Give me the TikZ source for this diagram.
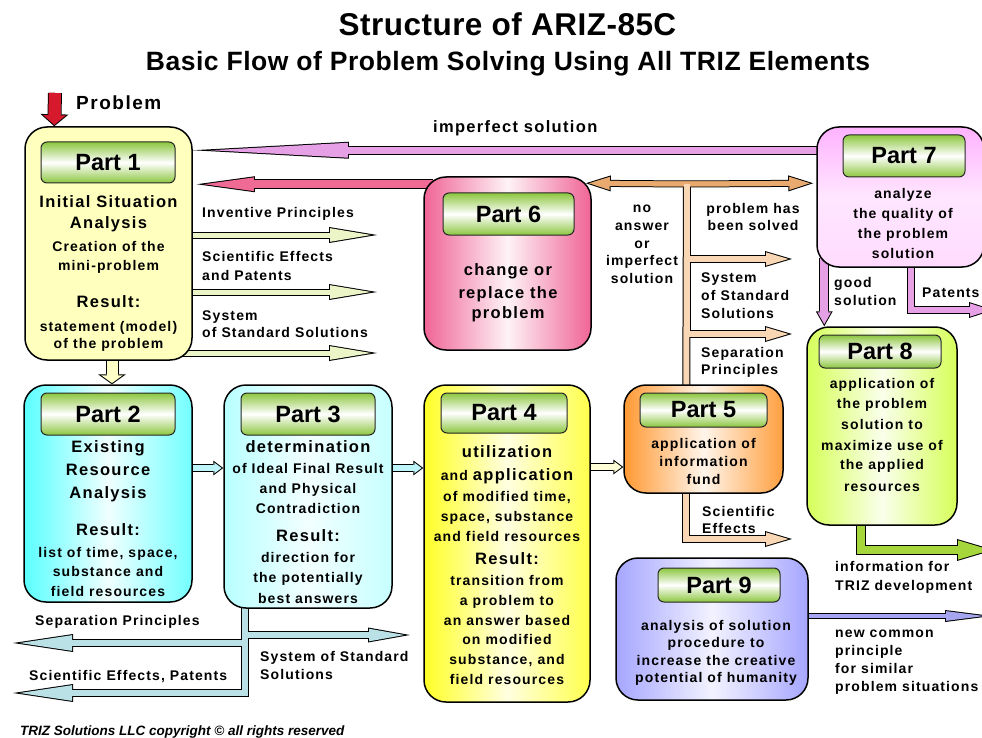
\documentclass[tikz,border=0pt]{standalone}
\usepackage{fontspec}
\setmainfont{Liberation Sans}[LetterSpace=8]
\newfontfamily\hdrfont{Liberation Sans}
\newfontfamily\ttlfont{Liberation Sans}[LetterSpace=1.5]
\newfontfamily\subfont{Liberation Sans}[LetterSpace=2]
\newfontfamily\cpyfont{Liberation Sans}
\usepackage{tikz}
\usetikzlibrary{arrows.meta,calc,backgrounds}

\definecolor{hdrgreen}{RGB}{140,198,63}
\definecolor{p1fill}{RGB}{255,255,190}
\definecolor{p6pink}{RGB}{240,100,150}
\definecolor{pinkA}{RGB}{230,160,230}
\definecolor{pinkB}{RGB}{240,106,150}
\definecolor{p1green}{RGB}{235,245,200}
\definecolor{p1yel}{RGB}{255,255,200}
\definecolor{probred}{RGB}{215,25,45}
\definecolor{cyanA}{RGB}{190,245,250}
\definecolor{cyanB}{RGB}{185,225,230}
\definecolor{p4yel}{RGB}{255,255,215}
\definecolor{orangeA}{RGB}{232,170,110}
\definecolor{orangeB}{RGB}{250,215,180}
\definecolor{green8}{RGB}{165,215,60}
\definecolor{blue9}{RGB}{165,165,240}

\def\flowpass{0}
\tikzset{
  box/.style={draw=black, line width=1.5pt, rounded corners=22pt, inner sep=0pt},
  hdr/.style={draw=black!85, line width=1pt, rounded corners=6pt, inner sep=0pt,
    top color=hdrgreen, bottom color=hdrgreen, middle color=white,
    font=\hdrfont\bfseries\fontsize{23.5}{26}\selectfont},
  body/.style={font=\bfseries\fontsize{14}{#1}\selectfont, align=center, anchor=north, inner sep=0pt},
  body/.default=19,
  lbl/.style={font=\bfseries\fontsize{14}{#1}\selectfont, inner sep=0pt},
  lbl/.default=18,
  % block arrow: fill colour, shaft width, head length, head width
  flow/.code n args={4}{%
    \pgfmathsetmacro\flowH{0.5*#4}%
    \pgfmathsetmacro\flowR{(#3)*sqrt(1+(\flowH/(#3))*(\flowH/(#3)))}%
    \pgfmathsetmacro\flowD{\flowR/\flowH}%
    \pgfmathsetmacro\flowLi{#3-1-\flowD}%
    \pgfmathsetmacro\flowWi{2*(\flowH*(#3-1)/(#3)-\flowR/(#3))}%
    \pgfmathsetmacro\flowSi{#2-2}%
    \pgfmathsetmacro\flowF{#3-2}%
    \tikzset{line join=miter}%
    \ifnum\flowpass=2 \else
      \tikzset{preaction={draw=black, line width=#2pt, shorten >=0pt,
        -{Triangle[length=#3pt, width=#4pt, line width=0pt]}}}%
    \fi
    \ifnum\flowpass=1 \else
      \tikzset{postaction={draw=#1, line width=\flowSi pt, shorten >=\flowD pt,
          -{Triangle[length=\flowLi pt, width=\flowWi pt, line width=0pt]}},
        postaction={draw=#1, line width=\flowSi pt, shorten >=\flowF pt, -}}%
    \fi
  },
  flowbar/.code 2 args={%
    \pgfmathsetmacro\flowSi{#2-2}%
    \ifnum\flowpass=2 \else\tikzset{preaction={draw=black, line width=#2pt}}\fi
    \ifnum\flowpass=1 \else\tikzset{postaction={draw=#1, line width=\flowSi pt}}\fi
  }
}
\newcommand{\bigtxt}[1]{{\fontsize{16.5}{19}\selectfont #1}}

\begin{document}
\begin{tikzpicture}[x=1pt,y=-1pt]
	\useasboundingbox (0,0) rectangle (982,738);
	\clip (0,0) rectangle (982,738);

	\node (title) at (507.5,36) [anchor=base, inner sep=0pt, font=\ttlfont\bfseries\fontsize{31.5}{34}\selectfont] {Structure of ARIZ-85C};
	\node (subtitle) at (508,70.5) [anchor=base, inner sep=0pt, font=\subfont\bfseries\fontsize{26.5}{29}\selectfont] {Basic Flow of Problem Solving Using All TRIZ Elements};

	% the nine parts
	\node (p1) at (108.5,243.5) [box, minimum width=167pt, minimum height=233pt, fill=p1fill] {};
	\node (p2) at (108,493.5) [box, minimum width=168pt, minimum height=217pt, left color=cyan!65, right color=cyan!55, middle color=cyan!6] {};
	\node (p3) at (308,496.5) [box, minimum width=168pt, minimum height=223pt, left color=cyan!28, right color=cyan!22, middle color=cyan!5] {};
	\node (p4) at (507,543.5) [box, minimum width=166pt, minimum height=317pt, left color=yellow!85, right color=yellow!70, middle color=yellow!12] {};
	\node (p5) at (703.5,439) [box, minimum width=159pt, minimum height=108pt, left color=orange!80, right color=orange!75, middle color=orange!8] {};
	\node (p6) at (507.5,263.5) [box, minimum width=167pt, minimum height=173pt, left color=p6pink, right color=p6pink, middle color=p6pink!8] {};
	\node (p7) at (900.5,197) [box, minimum width=167pt, minimum height=140pt, top color=magenta!30, bottom color=magenta!14, middle color=magenta!10] {};
	\node (p8) at (882,426) [box, minimum width=150pt, minimum height=198pt, left color=lime!65, right color=lime!65, middle color=lime!8] {};
	\node (p9) at (712,629) [box, minimum width=192pt, minimum height=142pt, left color=blue!35, right color=blue!35, middle color=blue!5] {};

	\node (h1) at (108,162.5) [hdr, minimum width=134pt, minimum height=41pt] {Part 1};
	\node (h2) at (108,414) [hdr, minimum width=134pt, minimum height=42pt] {Part 2};
	\node (h3) at (308,414) [hdr, minimum width=134pt, minimum height=42pt] {Part 3};
	\node (h4) at (504,413) [hdr, minimum width=126pt, minimum height=40pt] {Part 4};
	\node (h5) at (703.5,410) [hdr, minimum width=127pt, minimum height=34pt] {Part 5};
	\node (h6) at (508.5,214) [hdr, minimum width=131pt, minimum height=42pt] {Part 6};
	\node (h7) at (904,156) [hdr, minimum width=122pt, minimum height=42pt] {Part 7};
	\node (h8) at (880,351.5) [hdr, minimum width=122pt, minimum height=33pt] {Part 8};
	\node (h9) at (719,585) [hdr, minimum width=122pt, minimum height=34pt] {Part 9};

	\node (t1) at (108.5,194.2) [body=19] {\strut\bigtxt{Initial Situation}\\[2pt]\bigtxt{Analysis}\\[3.5pt]Creation of the\\mini-problem\\[18.5pt]\bigtxt{Result:}\\[4.5pt]statement (model)\\[-2pt]of the problem};
	\node (t2) at (108,439.2) [body=19] {\strut\bigtxt{Existing}\\[3.5pt]\bigtxt{Resource}\\[4.5pt]\bigtxt{Analysis}\\[18pt]\bigtxt{Result:}\\[2.5pt]list of time, space,\\substance and\\[1pt]field resources};
	\node (t3) at (308,438.5) [body=20] {\strut\bigtxt{determination}\\[0.5pt]of Ideal Final Result\\and Physical\\Contradiction\\[8.5pt]\bigtxt{Result:}\\[0.5pt]direction for\\the potentially\\[1pt]best answers};
	\node (t4) at (507,443) [body=20] {\strut\bigtxt{utilization}\\[3pt]and \bigtxt{application}\\[1pt]of modified time,\\space, substance\\and field resources\\[3.5pt]\bigtxt{Result:}\\[0.5pt]transition from\\a problem to\\an answer based\\[-1pt]on modified\\substance, and\\field resources};
	\node (t5) at (703.5,435.4) [body=18] {\strut application of\\information\\fund};
	\node (t6) at (508,260) [body=21.5] {\strut\bigtxt{change or}\\[1.5pt]\bigtxt{replace the}\\[-1.5pt]\bigtxt{problem}};
	\node (t7) at (903,184) [body=20] {\strut analyze\\the quality of\\the problem\\solution};
	\node (t8) at (882,373.4) [body=20.8] {\strut application of\\the problem\\solution to\\maximize use of\\[-2pt]the applied\\[1pt]resources};
	\node (t9) at (716,617.6) [body=17.7] {\strut analysis of solution\\procedure to\\increase the creative\\[-0.7pt]potential of humanity};

	% labels
	\node (lprob) at (76,110) [anchor=base west, inner sep=0pt, font=\bfseries\fontsize{19}{22}\selectfont] {Problem};
	\node (limp) at (433,133) [lbl, anchor=base west, font=\bfseries\fontsize{16.5}{18}\selectfont] {imperfect solution};
	\node (linv) at (202,218) [lbl, anchor=base west] {Inventive Principles};
	\node (lsci) at (202,247.7) [lbl=19, align=left, anchor=north west] {\strut Scientific Effects\\and Patents};
	\node (lsss) at (202,308.1) [lbl=17, align=left, anchor=north west] {\strut System\\of Standard Solutions};
	\node (lno) at (642,199.5) [lbl=17.9, align=center, anchor=north] {\strut no\\answer\\or\\imperfect\\solution};
	\node (lsolved) at (753,201.1) [lbl=17, align=center, anchor=north] {\strut problem has\\been solved};
	\node (lsss5) at (701,269.4) [lbl=18, align=left, anchor=north west] {\strut System\\of Standard\\Solutions};
	\node (lsep5) at (701,344.8) [lbl=17.5, align=left, anchor=north west] {\strut Separation\\Principles};
	\node (lsci5) at (702,503.8) [lbl=17.5, align=left, anchor=north west] {\strut Scientific\\Effects};
	\node (lgood) at (834,274.4) [lbl=18, align=left, anchor=north west] {\strut good\\solution};
	\node (lpat) at (922,297) [lbl, anchor=base west] {Patents};
	\node (linfo) at (835,558.5) [lbl=18.5, align=left, anchor=north west] {\strut information for\\TRIZ development};
	\node (lnew) at (835,624.4) [lbl=18, align=left, anchor=north west] {\strut new common\\principle\\for similar\\problem situations};
	\node (lsep3) at (35,625) [lbl, anchor=base west] {Separation Principles};
	\node (lsci3) at (29,680) [lbl, anchor=base west] {Scientific Effects, Patents};
	\node (lsss3) at (260,648.4) [lbl=18, align=left, anchor=north west] {\strut System of Standard\\Solutions};
	\node (lcopy) at (20,735) [anchor=base west, inner sep=0pt, font=\cpyfont\bfseries\itshape\fontsize{13.5}{15}\selectfont] {TRIZ Solutions LLC copyright © all rights reserved};

	% connectors behind the boxes
	\begin{scope}[on background layer]
		\clip (0,0) rectangle (982,738);
		\coordinate (probin) at (55,93);
		\path[flow={probred}{14}{12}{28}] (probin) -- ($(p1.north west)+(30,0)$);

		\path[flow={pinkA}{9}{156}{17}] ($(p7.north west)+(10,24)$) -- ($(p1.north east)+(0,24)$);
		\path[flow={pinkB}{10}{58}{16}] ($(p6.north west)+(10,8)$) -- ($(p1.north east)+(4,58)$);

		\coordinate (tinv) at (377,235);
		\coordinate (tsci) at (377,292);
		\coordinate (tsss) at (377,353);
		\foreach \tp in {tinv,tsci,tsss}
			\path[flow={p1green}{7}{48}{16}] ($(p1.east |- \tp)+(-20,0)$) -- (\tp);
		\path[flow={p1yel}{13}{10}{28}] ($(p1.south)+(3.5,-10)$) -- ($(p2.north)+(4,0)$);

		\path[flow={cyanA}{8}{10}{15}] ($(p2.east)+(-6,-25.5)$) -- ($(p3.west)+(0,-28.5)$);
		\path[flow={cyanA}{8}{10}{15}] ($(p3.east)+(-6,-28.5)$) -- ($(p4.west)+(0,-75.5)$);
		\path[flow={p4yel}{8}{10}{15}] ($(p4.east)+(-6,-76.5)$) -- ($(p5.west)+(0,28)$);

		\coordinate (c3) at ($(p3.south west)+(22,-10)$);
		\coordinate (tsss3) at (410,635);
		\coordinate (tsep3) at (13,643);
		\coordinate (tsci3) at (13,693);
		\foreach \flowpass in {1,2} {
			\path[flow={cyanB}{8}{42}{15}] (c3) |- (tsss3);
			\path[flow={cyanB}{8}{60}{18}] (c3) |- (tsep3);
			\path[flow={cyanB}{8}{60}{18}] (c3) |- (tsci3);
		}

		\coordinate (oj) at (687,184);
		\coordinate (tsss5) at (792,259);
		\coordinate (tsep5) at (792,334);
		\coordinate (tsci5) at (792,539);
		\foreach \flowpass in {1,2} {
			\path[flow={orangeA}{7}{25}{16}] (oj) -- ($(p6.north east)+(-6,7)$);
			\path[flow={orangeA}{7}{25}{16}] (oj) -- ($(p7.north west)+(-3,57)$);
			\path[flowbar={orangeB}{8}] (oj) -- ($(p5.north west)+(63,10)$);
			\path[flow={orangeB}{8}{27}{16}] (oj) |- (tsss5);
			\path[flow={orangeB}{8}{27}{16}] (oj) |- (tsep5);
		}
		\path[flow={orangeB}{8}{27}{16}] ($(p5.south west)+(63,-10)$) |- (tsci5);

		\coordinate (tpat) at (994,310);
		\coordinate (ttriz) at (994,550);
		\coordinate (tnew) at (992,616);
		\path[flow={pinkA}{10}{15}{17}] ($(p7.south west)+(8,-10)$) -- ($(p8.north west)+(18,0)$);
		\path[flow={pinkA}{8}{25}{16}] ($(p7.south west)+(95,-10)$) |- (tpat);
		\path[flow={green8}{10}{37}{22}] ($(p8.south west)+(55,-10)$) |- (ttriz);
		\path[flow={blue9}{6}{47}{12}] ($(p9.east)+(-6,-13)$) -- (tnew);
	\end{scope}
\end{tikzpicture}
\end{document}
